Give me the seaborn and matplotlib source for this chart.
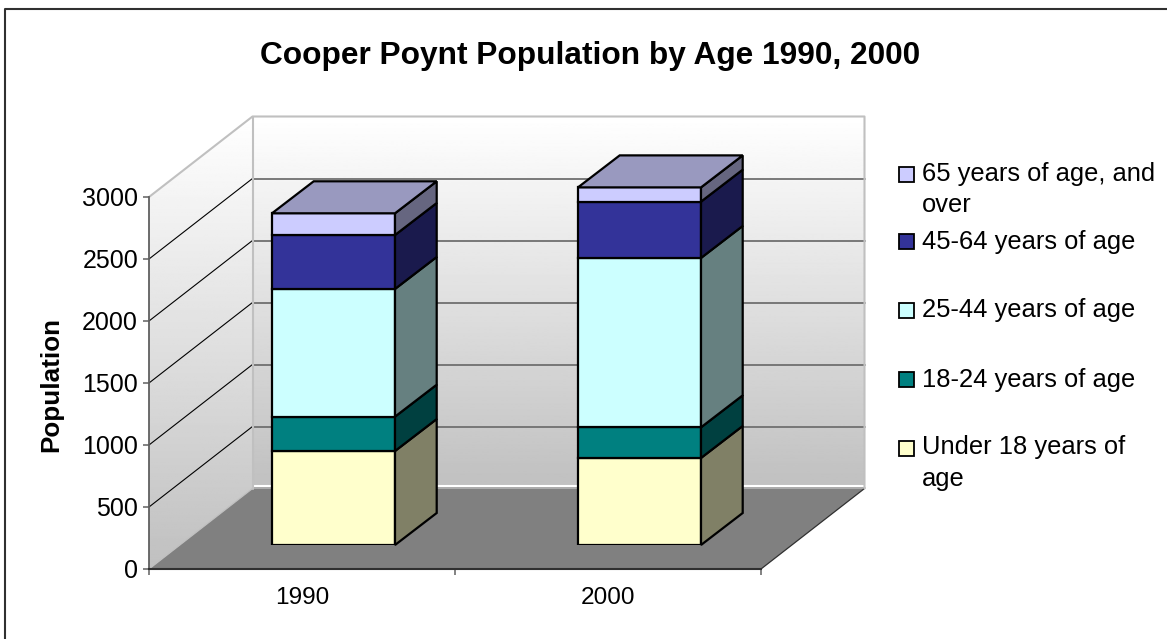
import matplotlib
matplotlib.use('Agg')
import matplotlib.pyplot as plt
import numpy as np
import seaborn as sns
from matplotlib.patches import Polygon, Rectangle

years = ['1990', '2000']
age_groups = ['Under 18 years of\nage', '18-24 years of age', '25-44 years of age',
              '45-64 years of age', '65 years of age, and\nover']
under_18 = [758, 702]
age_18_24 = [277, 247]
age_25_44 = [1030, 1366]
age_45_64 = [435, 454]
age_65_up = [175, 115]
y_ticks = [0, 500, 1000, 1500, 2000, 2500, 3000]

front_colors = ['#FFFFCC', '#008080', '#CCFFFF', '#333399', '#CCCCFF']
side_colors = ['#808066', '#004040', '#668080', '#1A1A4D', '#666680']
top_color = '#9999BF'

W, H = 1167, 639
X0, X1, Y0, Y1 = 149, 761, 569, 197   # front plane in pixels
DEPTH_X, DEPTH_Y = 103.5, 80.5
BAR_DX, BAR_DY = 31.5, 24
BAR_DEPTH_X, BAR_DEPTH_Y = 41.7, 32

sns.set_theme(style='white')
plt.rcParams['font.family'] = ['Liberation Sans', 'DejaVu Sans']

fig = plt.figure(figsize=(W / 100, H / 100), dpi=100)


def px_axes(left, right, bottom, top, zorder):
    a = fig.add_axes([left / W, 1 - bottom / H, (right - left) / W, (bottom - top) / H])
    a.set_zorder(zorder)
    a.patch.set_alpha(0)
    return a


# backdrop in pixel coordinates: frame, walls, floor
bg = fig.add_axes([0, 0, 1, 1])
bg.set_xlim(0, W)
bg.set_ylim(H, 0)
bg.axis('off')
# only the top and left of the frame are inside the picture
bg.plot([5, 5, W], [H, 9.3, 9.3], color='#303030', lw=1.5, zorder=-1)

gradient = np.linspace(1, 0.753, 256).reshape(-1, 1)
back_im = bg.imshow(gradient, cmap='gray', vmin=0, vmax=1, aspect='auto', zorder=0,
                    extent=(X0 + DEPTH_X, X1 + DEPTH_X, Y0 - DEPTH_Y, Y1 - DEPTH_Y))
left_im = bg.imshow(gradient, cmap='gray', vmin=0, vmax=1, aspect='auto', zorder=0,
                    extent=(X0, X0 + DEPTH_X, Y0, Y1 - DEPTH_Y))
left_wall = Polygon([(X0, Y0), (X0 + DEPTH_X, Y0 - DEPTH_Y), (X0 + DEPTH_X, Y1 - DEPTH_Y), (X0, Y1)],
                    fc='none', ec='none', transform=bg.transData)
bg.add_patch(left_wall)
left_im.set_clip_path(left_wall)
bg.set_xlim(0, W)
bg.set_ylim(H, 0)

bg.add_patch(Polygon([(X0, Y0), (X0 + DEPTH_X, Y0 - DEPTH_Y), (X1 + DEPTH_X, Y0 - DEPTH_Y), (X1, Y0)],
                     fc='#808080', ec='none', zorder=2))
bg.plot([X0 + DEPTH_X, X1 + DEPTH_X], [Y0 - DEPTH_Y - 2.5] * 2, color='white', lw=1.5, zorder=2)
bg.plot([X0 + DEPTH_X, X1 + DEPTH_X], [Y0 - DEPTH_Y - 0.5] * 2, color='#A8A8A8', lw=1.2, zorder=2)
bg.plot([X1, X1 + DEPTH_X], [Y0, Y0 - DEPTH_Y], color='#303030', lw=0.9, zorder=2)
bg.plot([X0, X0 + DEPTH_X], [Y0, Y0 - DEPTH_Y], color='#C0C0C0', lw=0.9, zorder=2)
bg.plot([X0, X0 + DEPTH_X, X1 + DEPTH_X, X1 + DEPTH_X],
        [Y1, Y1 - DEPTH_Y, Y1 - DEPTH_Y, Y0 - DEPTH_Y], color='#C0C0C0', lw=1.5, zorder=2)
bg.plot([X0 + DEPTH_X] * 2, [Y1 - DEPTH_Y, Y0 - DEPTH_Y], color='#C0C0C0', lw=1.5, zorder=2)

# gridlines on both walls follow the value axis
for tick in y_ticks[1:]:
    y = Y0 + (Y1 - Y0) * tick / 3000
    if tick < 3000:
        bg.plot([X0 + DEPTH_X, X1 + DEPTH_X], [y - DEPTH_Y] * 2, color='#707070', lw=1.3, zorder=1.5)
        bg.plot([X0, X0 + DEPTH_X], [y, y - DEPTH_Y], color='black', lw=0.8, zorder=1.5)

# front plane: the axis itself
ax = px_axes(X0, X1, Y0, Y1, 1)
ax.set_xlim(-0.5, 1.5)
ax.set_ylim(0, 3000)
ax.set_xticks([-0.5, 0.5, 1.5])
ax.set_xticklabels([])
ax.set_yticks(y_ticks)
ax.tick_params(axis='y', length=4.3, width=1.1, color='#606060', labelsize=18, pad=3.6, left=True, labelcolor='black')
ax.tick_params(axis='x', length=4.3, width=1.1, color='#606060', bottom=True)
for side in ['top', 'right']:
    ax.spines[side].set_visible(False)
ax.spines['left'].set_color('#606060')
ax.spines['left'].set_linewidth(1.3)
ax.spines['bottom'].set_color('#303030')
ax.spines['bottom'].set_linewidth(1.5)

# stacked bars live in their own axes, pushed back into the floor
bar_ax = px_axes(X0 + BAR_DX, X1 + BAR_DX, Y0 - BAR_DY, Y1 - BAR_DY, 2)
series = [under_18, age_18_24, age_25_44, age_45_64, age_65_up]
bottom = np.zeros(len(years))
dx = BAR_DEPTH_X / (X1 - X0) * 2
dy = BAR_DEPTH_Y / (Y0 - Y1) * 3000
for i, values in enumerate(series):
    n_before = len(bar_ax.patches)
    sns.barplot(x=years, y=values, bottom=bottom, color=front_colors[i], saturation=1,
                width=0.402, edgecolor='black', linewidth=1.6, ax=bar_ax, zorder=3)
    for patch, b, v in zip(bar_ax.patches[n_before:], bottom, values):
        xl = patch.get_x()
        xr = xl + patch.get_width()
        t = b + v
        bar_ax.add_patch(Polygon([(xr, b), (xr + dx, b + dy), (xr + dx, t + dy), (xr, t)],
                                 fc=side_colors[i], ec='black', lw=1.6, zorder=3, clip_on=False))
        if i == len(series) - 1:
            bar_ax.add_patch(Polygon([(xl, t), (xl + dx, t + dy), (xr + dx, t + dy), (xr, t)],
                                     fc=top_color, ec='black', lw=1.6, zorder=3, clip_on=False))
    bottom = bottom + np.array(values)
bar_ax.set_xlim(-0.5, 1.5)
bar_ax.set_ylim(0, 3000)
bar_ax.axis('off')

# category labels sit under the front axis
for i, year in enumerate(years):
    bg.text(X0 + (X1 - X0) * (i + 0.5) / 2, 598, year, fontsize=17.6, color='black', ha='center', va='center', zorder=5)

bg.text(590, 56, 'Cooper Poynt Population by Age 1990, 2000', fontsize=22.8, fontweight='bold',
        color='black', ha='center', va='center')
bg.text(51, 384, 'Population', fontsize=18.7, fontweight='bold', color='black',
        rotation=90, ha='center', va='center')

# legend, newest series first
legend_y = [174.5, 241, 310.5, 379, 448]
legend_text_y = [161.5, 230, 298, 368, 435]
for i, y, ty in zip(range(len(age_groups) - 1, -1, -1), legend_y, legend_text_y):
    bg.add_patch(Rectangle((898.5, y - 7.5), 15, 15, fc=front_colors[i], ec='black', lw=1.3, zorder=5))
    bg.text(922, ty, age_groups[i], fontsize=18.4, color='black', ha='left', va='top',
            linespacing=1.41, zorder=5)

fig.savefig('out.png', dpi=100)
